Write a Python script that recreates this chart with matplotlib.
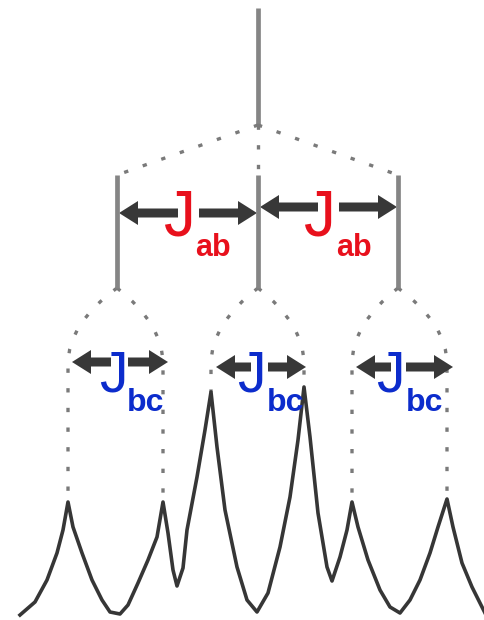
import numpy as np
import matplotlib.pyplot as plt
from matplotlib.path import Path
from matplotlib.patches import PathPatch

plt.rcParams['font.family'] = ['Liberation Sans', 'DejaVu Sans']

# spectrum trace (x, y in pixel units, y grows downward)
spec_x = [20, 35, 47, 57, 63, 68, 73, 82, 92, 102, 110, 120, 128, 138, 148, 157, 163,
          168, 173, 177, 183, 187, 197, 205, 211, 217, 225, 237, 247, 257, 268, 280,
          290, 298, 304, 310, 318, 327, 332, 340, 347, 352, 358, 368, 380, 390, 400,
          410, 420, 430, 438, 447, 453, 462, 472, 485]
spec_y = [615, 602, 580, 553, 530, 502, 527, 553, 580, 600, 612, 614, 605, 583, 560, 537, 502,
          533, 570, 586, 568, 530, 477, 430, 392, 447, 510, 567, 600, 612, 593, 547,
          497, 440, 387, 437, 513, 567, 581, 557, 530, 502, 527, 560, 590, 607, 613,
          600, 580, 553, 527, 499, 527, 563, 587, 613]

# splitting tree
root_x = 258
root_y = (8, 125)
level1_x = [117, 258, 398]
level1_y = (175, 288)
level2_x = [68, 163, 211, 304, 352, 447]

# coupling arrows: (start, end, y, gap from, gap to)
jab_arrows = [(119, 257, 213, 178, 199), (260, 397, 207, 318, 339)]
jbc_arrows = [(72, 168, 362, 111, 128), (216, 306, 367, 251, 268), (356, 453, 367, 391, 406)]

# labels: (J x, J baseline, subscript x, subscript baseline)
jab_labels = [(164, 236, 195, 256), (304, 236, 336, 256)]
jbc_labels = [(99, 392, 127, 411), (237, 392, 267, 411), (376, 392, 406, 411)]

line_c = '#858585'
dot_c = '#7a7a7a'
arrow_c = '#383838'
red = '#e8101c'
blue = '#0c2ccc'

fig = plt.figure(figsize=(4.85, 6.2), dpi=100)
ax = fig.add_axes([0, 0, 1, 1])
ax.set_xlim(0, 485)
ax.set_ylim(620, 0)
ax.axis('off')

dots = dict(color=dot_c, lw=2.4, linestyle=(0, (1.3, 4.6)))

# top line and its fan-out
ax.plot([root_x, root_x], root_y, color=line_c, lw=3.4, solid_capstyle='butt')
for x in level1_x:
    ax.plot([root_x, x], [root_y[1], level1_y[0]], **dots)
    ax.plot([x, x], level1_y, color=line_c, lw=3.4, solid_capstyle='butt')

# second splitting: curved dotted connectors down to the peaks
for i, xc in enumerate(level2_x):
    xp = level1_x[i // 2]
    y0 = level1_y[1]
    y_peak = np.interp(xc, spec_x, spec_y)
    verts = [(xp, y0), (xc, y0 + 36), (xc, y0 + 76), (xc, y_peak)]
    codes = [Path.MOVETO, Path.CURVE3, Path.CURVE3, Path.LINETO]
    ax.add_patch(PathPatch(Path(verts, codes), fill=False, **dots))

# spectrum
ax.plot(spec_x, spec_y, color='#363636', lw=2.6, solid_joinstyle='round')


def coupling_arrow(x0, x1, y, g0, g1):
    kw = dict(width=9, head_width=24, head_length=19, length_includes_head=True,
              color=arrow_c, lw=0)
    ax.arrow(g0, y, x0 - g0, 0, **kw)
    ax.arrow(g1, y, x1 - g1, 0, **kw)


for a in jab_arrows + jbc_arrows:
    coupling_arrow(*a)

for jx, jy, sx, sy in jab_labels:
    ax.text(jx, jy, 'J', color=red, fontsize=46, ha='left', va='baseline')
    ax.text(sx, sy, 'ab', color=red, fontsize=22, fontweight='bold', ha='left', va='baseline')

for jx, jy, sx, sy in jbc_labels:
    ax.text(jx, jy, 'J', color=blue, fontsize=41, ha='left', va='baseline')
    ax.text(sx, sy, 'bc', color=blue, fontsize=23, fontweight='bold', ha='left', va='baseline')

fig.savefig('out.png', dpi=100)
